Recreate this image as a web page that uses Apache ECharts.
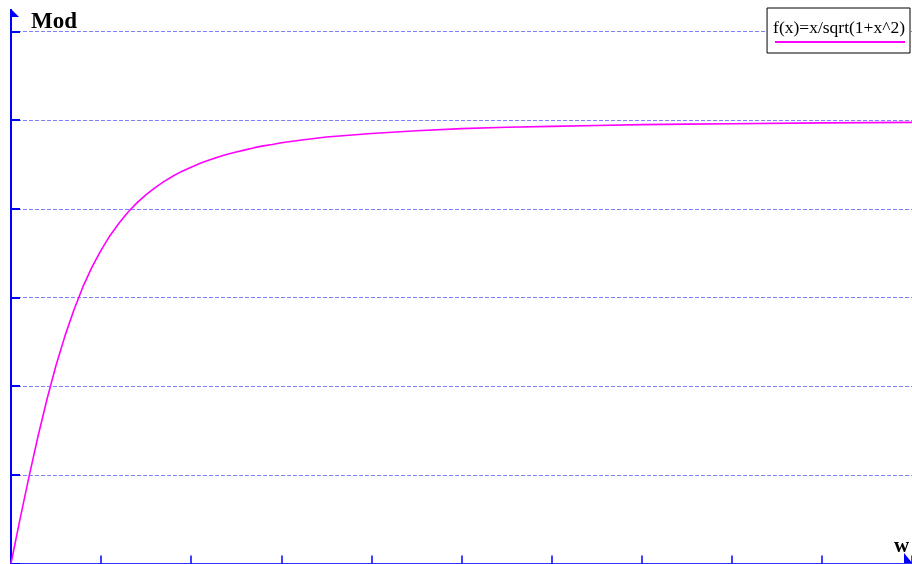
<!DOCTYPE html>
<html>
<head>
<meta charset="utf-8">
<script src="https://cdn.jsdelivr.net/npm/echarts@6/dist/echarts.min.js"></script>
<style>
html, body { margin: 0; padding: 0; background: #fff; }
#chart { width: 912px; height: 564px; }
</style>
</head>
<body>
<div id="chart"></div>
<script>
// valori (w, Mod)
var wValues = [0, 0.1, 0.2, 0.3, 0.4, 0.5, 0.6, 0.7, 0.8, 0.9, 1, 1.1, 1.2, 1.3, 1.4, 1.5, 1.6, 1.7, 1.8, 1.9,
	2, 2.1, 2.2, 2.3, 2.4, 2.5, 2.6, 2.7, 2.8, 2.9, 3, 3.25, 3.5, 3.75, 4, 4.5, 5, 5.5, 6, 6.5, 7, 7.5, 8, 9, 10];
var modValues = [0, 0.100, 0.196, 0.287, 0.371, 0.447, 0.514, 0.573, 0.625, 0.669, 0.707, 0.740, 0.768, 0.793,
	0.814, 0.832, 0.848, 0.862, 0.874, 0.885, 0.894, 0.903, 0.910, 0.917, 0.923, 0.928, 0.933, 0.938, 0.942,
	0.945, 0.949, 0.956, 0.962, 0.966, 0.970, 0.976, 0.981, 0.984, 0.986, 0.988, 0.990, 0.991, 0.992, 0.994, 0.995];
var yTicks = [0, 0.2, 0.4, 0.6, 0.8, 1, 1.2];
var seriesName = 'f(x)=x/sqrt(1+x^2)';

var points = [];
for (var i = 0; i < wValues.length; i++) {
	points.push([wValues[i], modValues[i]]);
}

var blue = '#0000ff';
var chart = echarts.init(document.getElementById('chart'));
var option = {
	animation: false,
	backgroundColor: '#fff',
	title: [{
		text: 'Mod', left: 26, top: 6,
		textStyle: { fontFamily: 'Liberation Serif', fontWeight: 'bold', fontSize: 23, color: '#000' }
	}, {
		text: 'w', left: 889, top: 531,
		textStyle: { fontFamily: 'Liberation Serif', fontWeight: 'bold', fontSize: 21, color: '#000' }
	}],
	legend: {
		right: 2, top: 8,
		padding: [11, 5, 16, 1],
		borderColor: '#000', borderWidth: 1,
		backgroundColor: '#fff',
		itemWidth: 0, itemGap: 0,
		data: [{ name: seriesName, icon: 'none' }],
		textStyle: { fontFamily: 'Liberation Serif', fontSize: 17.5, color: '#000' }
	},
	grid: { left: 11, top: 31.5, width: 902, height: 532 },
	xAxis: {
		type: 'value', min: 0, max: 10, interval: 1,
		axisLine: { lineStyle: { color: '#3333ff', width: 1 } },
		axisTick: { inside: true, length: 8, lineStyle: { color: blue, width: 1.5 } },
		axisLabel: { show: false },
		splitLine: { show: false }
	},
	yAxis: {
		type: 'value', min: yTicks[0], max: yTicks[yTicks.length - 1], interval: 0.2,
		axisLine: { show: true, lineStyle: { color: blue, width: 2 } },
		axisTick: { show: true, inside: true, length: 9, lineStyle: { color: blue, width: 2 } },
		axisLabel: { show: false },
		splitLine: { show: true, lineStyle: { color: '#8080ff', type: [4, 2], width: 1 } }
	},
	graphic: [
		// prolungamento asse y con freccia
		{ type: 'line', shape: { x1: 11, y1: 9, x2: 11, y2: 32 }, style: { stroke: blue, lineWidth: 2 } },
		{ type: 'polygon', shape: { points: [[11, 9], [19, 17], [11, 17]] }, style: { fill: blue } },
		// freccia asse x
		{ type: 'polygon', shape: { points: [[904, 553], [913, 564], [904, 564]] }, style: { fill: blue } },
		// linea della legenda
		{ type: 'line', shape: { x1: 775, y1: 42, x2: 905, y2: 42 }, style: { stroke: '#ff00ff', lineWidth: 2 }, z: 100 }
	],
	series: [{
		name: seriesName,
		type: 'line',
		data: points,
		showSymbol: false,
		smooth: false,
		lineStyle: { color: '#ff00ff', width: 1.6 },
		itemStyle: { color: '#ff00ff' }
	}]
};
chart.setOption(option);
</script>
</body>
</html>
